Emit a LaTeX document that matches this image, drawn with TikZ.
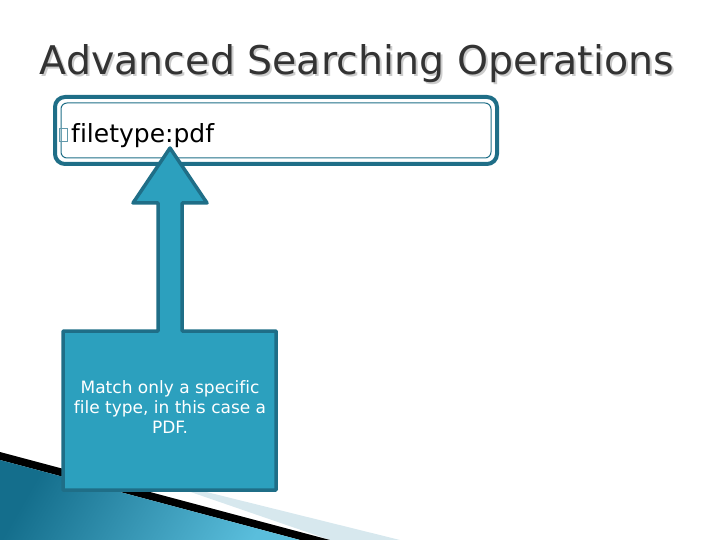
\documentclass[tikz,border=0pt]{standalone}
\usepackage{fontspec}
\setmainfont{DejaVu Sans}[Ligatures=NoCommon]
\begin{document}
\begin{tikzpicture}[x=1pt,y=-1pt,
  frame/.style={draw=teald, line width=4pt, rounded corners=10pt},
  callout/.style={draw=teald, line width=3.5pt, fill=tealf, line join=round}]
\definecolor{teald}{RGB}{31,110,135}
\definecolor{tealf}{RGB}{44,160,190}
\definecolor{swa}{RGB}{20,110,140}
\definecolor{swb}{RGB}{90,190,220}
\definecolor{pale}{RGB}{215,232,238}
\useasboundingbox (0,0) rectangle (720,540);
% swoosh
\fill[pale] (150,478) -- (400,540) -- (330,540) -- cycle;
\fill[black] (0,452) -- (330,540) -- (300,540) -- (0,460) -- cycle;
\shade[left color=swa, right color=swb, shading angle=60] (0,460) -- (300,540) -- (0,540) -- cycle;
% title
\node[text=gray!40, font=\fontsize{39.5}{42}\selectfont] (tshadow) at (359,66) {Advanced Searching Operations};
\node[text=black!80, font=\fontsize{39.5}{42}\selectfont] (title) at (357,64) {Advanced Searching Operations};
% frame
\draw[frame] (55,97) rectangle (497,164);
\draw[teald, line width=1pt, rounded corners=6pt] (61,103) rectangle (491,158);
\node[draw=teald!70, line width=0.8pt, minimum width=8pt, minimum height=13pt, inner sep=0pt] (glyph) at (63,135) {};
\node[anchor=base west, font=\fontsize{25}{28}\selectfont, inner sep=0pt] (ft) at (71,143) {filetype:pdf};
% callout
\draw[callout] (63,331) -- (158,331) -- (158,203) -- (133,203) -- (170,148) -- (207,203) -- (182,203) -- (182,331) -- (276,331) -- (276,490) -- (63,490) -- cycle;
\node[text=white, align=center, font=\fontsize{17}{20}\selectfont] (ctext) at (170,407) {Match only a specific\\file type, in this case a\\PDF.};
\end{tikzpicture}
\end{document}
